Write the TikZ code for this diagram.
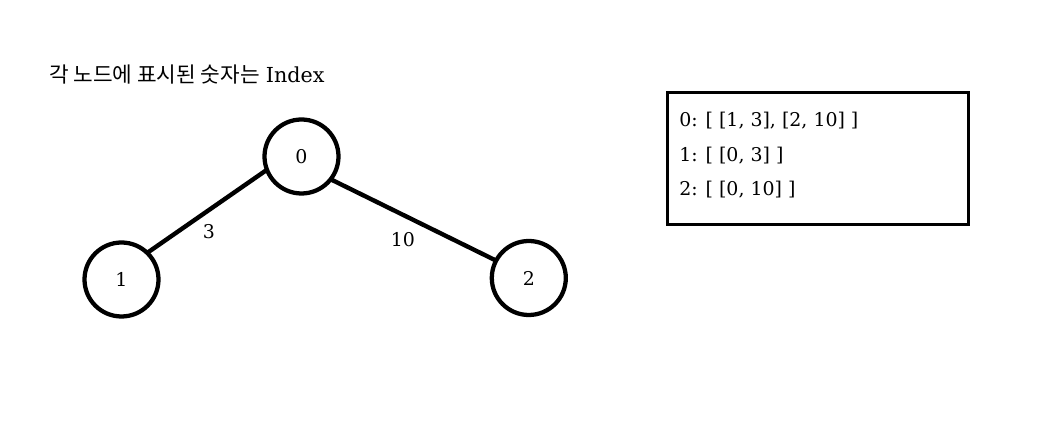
\documentclass[tikz,border=0pt]{standalone}
\usepackage{fontspec}
\setmainfont{DejaVu Serif}
\newfontfamily\kr{Noto Sans CJK KR}
\begin{document}
\begin{tikzpicture}[x=0.75pt,y=-0.75pt,
  txt/.style={font=\fontsize{14.2}{17}\selectfont},
  vtx/.style={circle,draw,line width=3.2pt,minimum size=55.5pt,inner sep=0pt,outer sep=0pt,txt},
  edge/.style={line width=3.3pt},
  elabel/.style={txt},
  listbox/.style={draw,line width=2.4pt,minimum width=226pt,minimum height=99pt,inner sep=0pt}]
\useasboundingbox (0,0) rectangle (1058,423);
\node[anchor=west,inner sep=0pt,txt] (title) at (49,75) {{\kr\fontsize{16}{18}\selectfont 각 노드에 표시된 숫자는} {\fontsize{15.5}{18}\selectfont Index}};
\node[vtx] (n0) at (301.5,156.5) {0};
\node[vtx] (n1) at (121.5,279.5) {1};
\node[vtx] (n2) at (528.8,278) {2};
\draw[edge] (n0.201) -- (n1.46);
\draw[edge] (n0.322) -- (n2.152);
\node[elabel] (w1) at (209,232) {3};
\node[elabel] (w2) at (403,240) {10};
\node[listbox] (box) at (818,158.5) {};
\node[anchor=west,inner sep=0pt,txt] (l0) at (679,121) {0: [ [1, 3], [2, 10] ]};
\node[anchor=west,inner sep=0pt,txt] (l1) at (679,156) {1: [ [0, 3] ]};
\node[anchor=west,inner sep=0pt,txt] (l2) at (679,190) {2: [ [0, 10] ]};
\end{tikzpicture}
\end{document}
